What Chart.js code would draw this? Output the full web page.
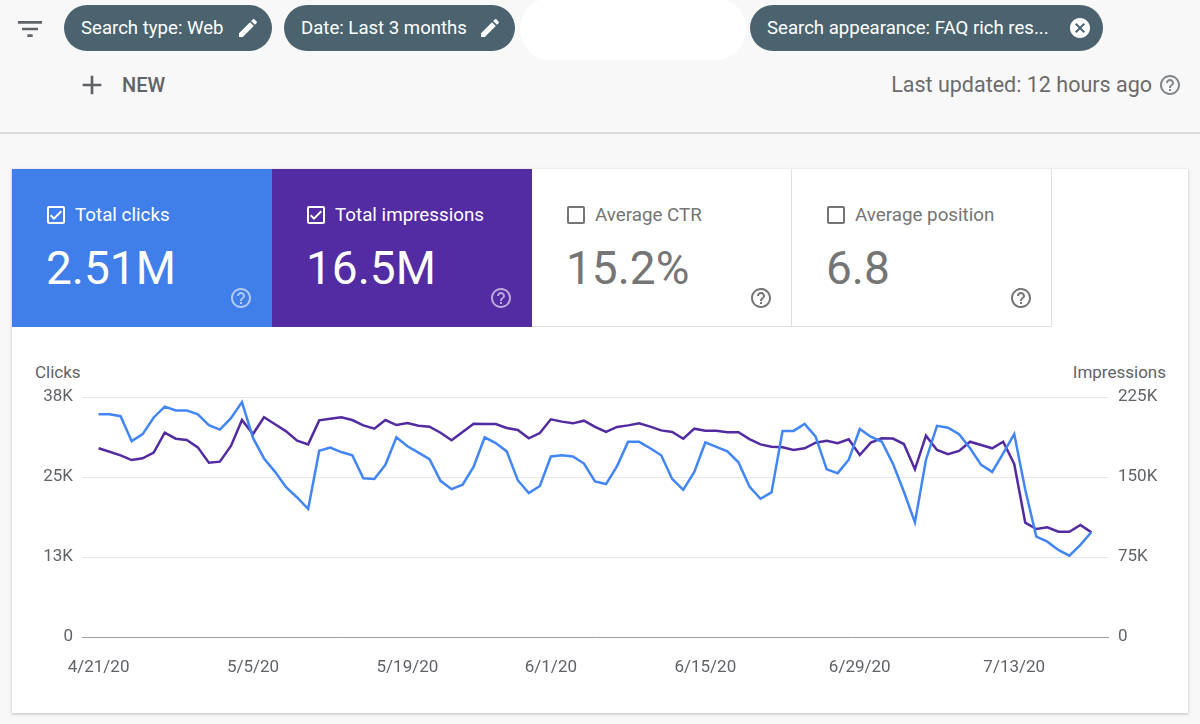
<!DOCTYPE html>
<html>
<head>
<meta charset="utf-8">
<script src="https://cdn.jsdelivr.net/npm/chart.js@4.4.1/dist/chart.umd.min.js"></script>
<style>
  body { margin: 0; width: 1200px; height: 724px; background: #f8f8f8; font-family: Roboto, "Noto Sans", sans-serif; position: relative; overflow: hidden; }
  .abs { position: absolute; }
  .chip { position: absolute; top: 5px; height: 46px; border-radius: 23px; background: #4b636f; color: #fff; font-size: 18.6px; line-height: 46px; box-sizing: border-box; padding-left: 17px; white-space: nowrap; }
  .chip svg { position: absolute; top: 11px; }
  .tile { position: absolute; top: 169px; width: 260px; height: 158px; box-sizing: border-box; }
  .tlabel { position: absolute; left: 63px; top: 35px; font-size: 18.8px; line-height: 22px; }
  .tvalue { position: absolute; left: 34px; top: 76px; font-size: 46px; line-height: 1; }
  .tile svg.cb { position: absolute; left: 32px; top: 34px; }
  .tile svg.help { position: absolute; left: 217px; top: 117px; }
  .axtitle { position: absolute; top: 362px; font-size: 17px; line-height: 20px; color: #5f6368; }
</style>
</head>
<body>
<!-- top bar -->
<svg class="abs" style="left:14px;top:13px" width="32" height="32" viewBox="0 0 24 24"><path fill="#5f6368" d="M10 18h4v-2h-4v2zM3 6v2h18V6H3zm3 7h12v-2H6v2z"/></svg>

<div class="chip" style="left:64px;width:208px">Search type: Web
  <svg style="left:172px" width="24" height="24" viewBox="0 0 24 24"><path fill="#fff" d="M3 17.25V21h3.75L17.81 9.94l-3.75-3.75L3 17.25zM20.71 7.04c.39-.39.39-1.020 0-1.41l-2.34-2.34a.9959.9959 0 0 0-1.41 0l-1.83 1.83 3.75 3.75 1.83-1.83z"/></svg>
</div>
<div class="chip" style="left:284px;width:231px">Date: Last 3 months
  <svg style="left:194px" width="24" height="24" viewBox="0 0 24 24"><path fill="#fff" d="M3 17.25V21h3.75L17.81 9.94l-3.75-3.75L3 17.25zM20.71 7.04c.39-.39.39-1.020 0-1.41l-2.34-2.34a.9959.9959 0 0 0-1.41 0l-1.83 1.83 3.75 3.75 1.83-1.83z"/></svg>
</div>
<div class="abs" style="left:520px;top:-2px;width:226px;height:62px;border-radius:30px;background:#fff"></div>
<div class="chip" style="left:750px;width:353px">Search appearance: FAQ rich res...
  <svg style="left:318px" width="24" height="24" viewBox="0 0 24 24"><path fill="#fff" d="M12 2C6.47 2 2 6.47 2 12s4.47 10 10 10 10-4.47 10-10S17.53 2 12 2zm5 13.59L15.59 17 12 13.41 8.41 17 7 15.59 10.59 12 7 8.41 8.41 7 12 10.59 15.59 7 17 8.41 13.41 12 17 15.59z"/></svg>
</div>

<svg class="abs" style="left:76px;top:69px" width="32" height="32" viewBox="0 0 24 24"><path fill="#5f6368" d="M19 13h-6v6h-2v-6H5v-2h6V5h2v6h6v2z"/></svg>
<div class="abs" style="left:122px;top:73px;font-size:20px;line-height:24px;font-weight:500;color:#5f6368">NEW</div>

<div class="abs" style="right:48px;top:72px;font-size:21.5px;line-height:26px;color:#6b6b6b">Last updated: 12 hours ago</div>
<svg class="abs" style="left:1158px;top:73px" width="24" height="24" viewBox="0 0 24 24"><path fill="#80868b" d="M11 18h2v-2h-2v2zm1-16C6.48 2 2 6.48 2 12s4.48 10 10 10 10-4.48 10-10S17.52 2 12 2zm0 18c-4.41 0-8-3.59-8-8s3.59-8 8-8 8 3.59 8 8-3.59 8-8 8zm0-14c-2.21 0-4 1.79-4 4h2c0-1.1.9-2 2-2s2 .9 2 2c0 2-3 1.75-3 5h2c0-2.25 3-2.5 3-5 0-2.21-1.79-4-4-4z"/></svg>

<div class="abs" style="left:0;top:132px;width:1200px;height:2px;background:#dadce0"></div>

<!-- card -->
<div class="abs" style="left:12px;top:169px;width:1176px;height:544px;background:#fff;box-shadow:0 1px 3px rgba(0,0,0,0.25)"></div>

<div class="tile" style="left:12px;background:#407ee9;color:#fff">
  <svg class="cb" width="24" height="24" viewBox="0 0 24 24"><path fill="#fff" d="M19 3H5c-1.11 0-2 .9-2 2v14c0 1.1.89 2 2 2h14c1.11 0 2-.9 2-2V5c0-1.1-.89-2-2-2zm0 16H5V5h14v14zM17.99 9l-1.41-1.42-6.59 6.59-2.58-2.57-1.42 1.41 4 3.99z"/></svg>
  <div class="tlabel">Total clicks</div>
  <div class="tvalue">2.51M</div>
  <svg class="help" width="24" height="24" viewBox="0 0 24 24"><path fill="rgba(255,255,255,0.6)" d="M11 18h2v-2h-2v2zm1-16C6.48 2 2 6.48 2 12s4.48 10 10 10 10-4.48 10-10S17.52 2 12 2zm0 18c-4.41 0-8-3.59-8-8s3.59-8 8-8 8 3.59 8 8-3.59 8-8 8zm0-14c-2.21 0-4 1.79-4 4h2c0-1.1.9-2 2-2s2 .9 2 2c0 2-3 1.75-3 5h2c0-2.25 3-2.5 3-5 0-2.21-1.79-4-4-4z"/></svg>
</div>
<div class="tile" style="left:272px;background:#532ba2;color:#fff">
  <svg class="cb" width="24" height="24" viewBox="0 0 24 24"><path fill="#fff" d="M19 3H5c-1.11 0-2 .9-2 2v14c0 1.1.89 2 2 2h14c1.11 0 2-.9 2-2V5c0-1.1-.89-2-2-2zm0 16H5V5h14v14zM17.99 9l-1.41-1.42-6.59 6.59-2.58-2.57-1.42 1.41 4 3.99z"/></svg>
  <div class="tlabel">Total impressions</div>
  <div class="tvalue">16.5M</div>
  <svg class="help" width="24" height="24" viewBox="0 0 24 24"><path fill="rgba(255,255,255,0.6)" d="M11 18h2v-2h-2v2zm1-16C6.48 2 2 6.48 2 12s4.48 10 10 10 10-4.48 10-10S17.52 2 12 2zm0 18c-4.41 0-8-3.59-8-8s3.59-8 8-8 8 3.59 8 8-3.59 8-8 8zm0-14c-2.21 0-4 1.79-4 4h2c0-1.1.9-2 2-2s2 .9 2 2c0 2-3 1.75-3 5h2c0-2.25 3-2.5 3-5 0-2.21-1.79-4-4-4z"/></svg>
</div>
<div class="tile" style="left:532px;border-right:1px solid #e0e0e0;border-bottom:1px solid #e0e0e0;color:#757575">
  <svg class="cb" width="24" height="24" viewBox="0 0 24 24"><path fill="#757575" d="M19 5v14H5V5h14m0-2H5c-1.1 0-2 .9-2 2v14c0 1.1.9 2 2 2h14c1.1 0 2-.9 2-2V5c0-1.1-.9-2-2-2z"/></svg>
  <div class="tlabel">Average CTR</div>
  <div class="tvalue">15.2%</div>
  <svg class="help" width="24" height="24" viewBox="0 0 24 24"><path fill="#757575" d="M11 18h2v-2h-2v2zm1-16C6.48 2 2 6.48 2 12s4.48 10 10 10 10-4.48 10-10S17.52 2 12 2zm0 18c-4.41 0-8-3.59-8-8s3.59-8 8-8 8 3.59 8 8-3.59 8-8 8zm0-14c-2.21 0-4 1.79-4 4h2c0-1.1.9-2 2-2s2 .9 2 2c0 2-3 1.75-3 5h2c0-2.25 3-2.5 3-5 0-2.21-1.79-4-4-4z"/></svg>
</div>
<div class="tile" style="left:792px;border-right:1px solid #e0e0e0;border-bottom:1px solid #e0e0e0;color:#757575">
  <svg class="cb" width="24" height="24" viewBox="0 0 24 24"><path fill="#757575" d="M19 5v14H5V5h14m0-2H5c-1.1 0-2 .9-2 2v14c0 1.1.9 2 2 2h14c1.1 0 2-.9 2-2V5c0-1.1-.9-2-2-2z"/></svg>
  <div class="tlabel">Average position</div>
  <div class="tvalue">6.8</div>
  <svg class="help" width="24" height="24" viewBox="0 0 24 24"><path fill="#757575" d="M11 18h2v-2h-2v2zm1-16C6.48 2 2 6.48 2 12s4.48 10 10 10 10-4.48 10-10S17.52 2 12 2zm0 18c-4.41 0-8-3.59-8-8s3.59-8 8-8 8 3.59 8 8-3.59 8-8 8zm0-14c-2.21 0-4 1.79-4 4h2c0-1.1.9-2 2-2s2 .9 2 2c0 2-3 1.75-3 5h2c0-2.25 3-2.5 3-5 0-2.21-1.79-4-4-4z"/></svg>
</div>

<div class="axtitle" style="left:35px">Clicks</div>
<div class="axtitle" style="right:34px">Impressions</div>

<canvas id="chart" class="abs" style="left:12px;top:345px" width="1176" height="360"></canvas>

<script>
// one label per day, 4/21/20 .. 7/20/20
let dates = [
  "4/21/20","4/22/20","4/23/20","4/24/20","4/25/20","4/26/20","4/27/20","4/28/20","4/29/20","4/30/20",
  "5/1/20","5/2/20","5/3/20","5/4/20","5/5/20","5/6/20","5/7/20","5/8/20","5/9/20","5/10/20",
  "5/11/20","5/12/20","5/13/20","5/14/20","5/15/20","5/16/20","5/17/20","5/18/20","5/19/20","5/20/20",
  "5/21/20","5/22/20","5/23/20","5/24/20","5/25/20","5/26/20","5/27/20","5/28/20","5/29/20","5/30/20","5/31/20",
  "6/1/20","6/2/20","6/3/20","6/4/20","6/5/20","6/6/20","6/7/20","6/8/20","6/9/20","6/10/20",
  "6/11/20","6/12/20","6/13/20","6/14/20","6/15/20","6/16/20","6/17/20","6/18/20","6/19/20","6/20/20",
  "6/21/20","6/22/20","6/23/20","6/24/20","6/25/20","6/26/20","6/27/20","6/28/20","6/29/20","6/30/20",
  "7/1/20","7/2/20","7/3/20","7/4/20","7/5/20","7/6/20","7/7/20","7/8/20","7/9/20","7/10/20",
  "7/11/20","7/12/20","7/13/20","7/14/20","7/15/20","7/16/20","7/17/20","7/18/20","7/19/20","7/20/20"
];

let tickDates = ["4/21/20", "5/5/20", "5/19/20", "6/1/20", "6/15/20", "6/29/20", "7/13/20"];
let clickTicks = ["0", "13K", "25K", "38K"];
let impressionTicks = ["0", "75K", "150K", "225K"];

let clicks = [
  34800, 34800, 34500, 30600, 31700, 34300, 36000, 35400, 35400, 34800,
  33100, 32400, 34200, 36700, 31100, 27900, 25800, 23400, 21800, 20000,
  29100, 29600, 28900, 28400, 24800, 24700, 26900, 31200, 29800, 28800,
  27800, 24400, 23100, 23800, 26600, 31200, 30300, 29000, 24500, 22500,
  23600, 28200, 28400, 28200, 27100, 24300, 23900, 26700, 30500, 30500,
  29500, 28400, 24700, 23000, 25800, 30400, 29700, 29000, 27300, 23500,
  21600, 22600, 32200, 32200, 33300, 31300, 26200, 25600, 27700, 32500,
  31300, 30500, 27100, 22700, 17900, 27700, 33000, 32700, 31700, 29500,
  26900, 25800, 28700, 31700, 23000, 15700, 14900, 13600, 12700, 14400,
  16400
];

let impressions = [
  176900, 173700, 170300, 165900, 167500, 172800, 191500, 185900, 184700, 177800,
  163400, 164400, 179100, 203400, 190300, 206000, 199400, 192800, 184000, 180600,
  203100, 204700, 206000, 203400, 198400, 195300, 203400, 198700, 200600, 198100,
  197200, 191500, 184400, 192200, 200000, 199700, 199700, 195900, 194100, 186300,
  191200, 204100, 201900, 200300, 202800, 197000, 192200, 196900, 198400, 200300,
  197200, 193700, 192200, 185900, 195300, 193400, 193400, 191900, 191900, 185600,
  180600, 178400, 177800, 175300, 176900, 182200, 184000, 181600, 185300, 170600,
  182200, 186300, 186000, 180900, 157200, 188700, 175300, 171300, 174400, 183100,
  180000, 176900, 183100, 162200, 107200, 101200, 102800, 98700, 98700, 105000,
  98100
];

let clicksColor = "#4285f4";
let impressionsColor = "#522ba0";
let textGrey = "#5f6368";

function toPoints(values) {
    return values.map((v, i) => ({ x: i, y: v }));
}

Chart.defaults.font.family = "Roboto";
Chart.defaults.color = textGrey;

let ctx = document.getElementById("chart").getContext("2d");
let chart = new Chart(ctx, {
    type: "line",
    data: {
        datasets: [{
            label: "Clicks",
            data: toPoints(clicks),
            borderColor: clicksColor,
            borderWidth: 2.5,
            pointRadius: 0,
            tension: 0,
            yAxisID: "yClicks"
        }, {
            label: "Impressions",
            data: toPoints(impressions),
            borderColor: impressionsColor,
            borderWidth: 2.5,
            pointRadius: 0,
            tension: 0,
            yAxisID: "yImpr"
        }]
    },
    options: {
        responsive: false,
        animation: false,
        devicePixelRatio: 1,
        layout: { padding: { top: 52, left: 0, right: 0, bottom: 0 } },
        plugins: { legend: { display: false }, tooltip: { enabled: false } },
        scales: {
            x: {
                type: "linear",
                min: -1.5,
                max: dates.length - 1 + 1.5,
                afterBuildTicks: (scale) => {
                    scale.ticks = tickDates.map(d => ({ value: dates.indexOf(d) }));
                },
                afterFit: (scale) => { scale.height = 68; },
                grid: { display: false, drawTicks: false },
                border: { display: true, color: "#9aa0a6", width: 1 },
                ticks: {
                    padding: 21,
                    maxRotation: 0,
                    autoSkip: false,
                    font: { size: 17 },
                    color: textGrey,
                    callback: (value) => dates[value]
                }
            },
            yClicks: {
                position: "left",
                min: 0,
                max: 37500,
                afterFit: (scale) => { scale.width = 70; },
                afterBuildTicks: (scale) => {
                    scale.ticks = clickTicks.map((t, i) => ({ value: i * 12500 }));
                },
                grid: {
                    drawTicks: false,
                    color: (c) => c.tick && c.tick.value === 0 ? "rgba(0,0,0,0)" : "#e6e6e6"
                },
                border: { display: false },
                ticks: {
                    padding: 9,
                    font: { size: 17 },
                    color: textGrey,
                    callback: (value, index) => clickTicks[index]
                }
            },
            yImpr: {
                position: "right",
                min: 0,
                max: 225000,
                afterFit: (scale) => { scale.width = 80; },
                afterBuildTicks: (scale) => {
                    scale.ticks = impressionTicks.map((t, i) => ({ value: i * 75000 }));
                },
                grid: { display: false, drawTicks: false },
                border: { display: false },
                ticks: {
                    padding: 10,
                    font: { size: 17 },
                    color: textGrey,
                    callback: (value, index) => impressionTicks[index]
                }
            }
        }
    }
});
</script>
</body>
</html>
